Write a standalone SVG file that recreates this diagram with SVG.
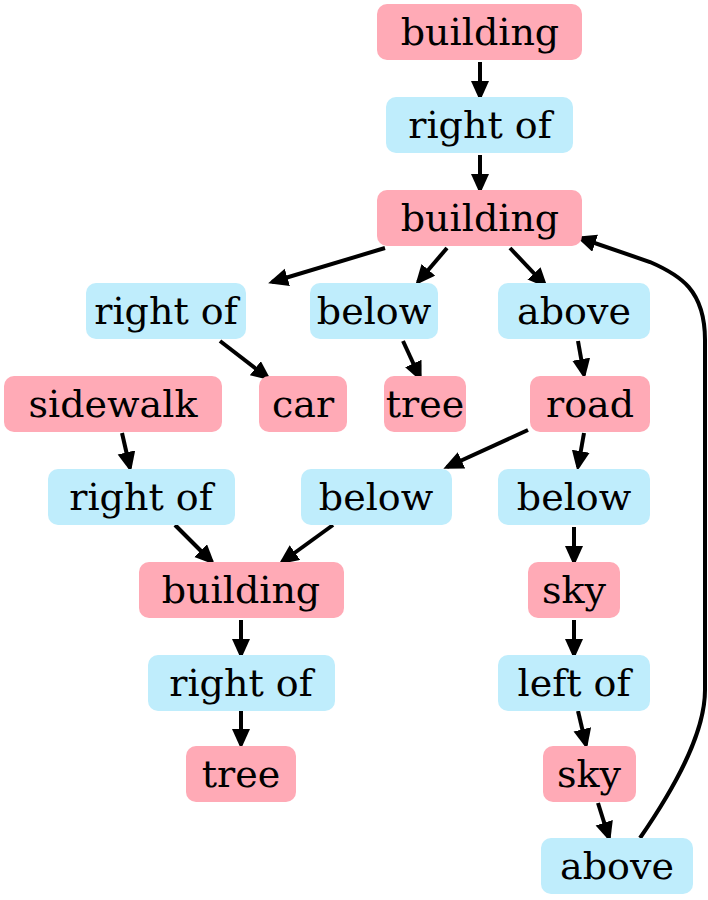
<svg xmlns="http://www.w3.org/2000/svg" width="708" height="900" viewBox="0 0 708 900">
<style>
.o rect{fill:#ffaab6;}
.r rect{fill:#bfedfc;}
text{font-family:"DejaVu Serif",serif;font-size:38px;text-anchor:middle;fill:#000;}
#edges path{stroke:#000;stroke-width:4;fill:none;marker-end:url(#a);}
</style>
<defs><marker id="a" markerUnits="userSpaceOnUse" markerWidth="22" markerHeight="20" refX="16" refY="9" orient="auto"><path d="M0,0 L20,9 L0,18 z" fill="#000"/></marker></defs>
<rect width="708" height="900" fill="#fff"/>
<g id="edges">
<path d="M480,62 L480,97"/>
<path d="M480,155 L480,190"/>
<path d="M385,248 L272,282"/>
<path d="M447,248 L418,282"/>
<path d="M510,248 L545,285"/>
<path d="M640,838 C680,780 705,730 705,690 L705,340 C705,290 680,275 650,262 L580,238"/>
<path d="M220,341 L268,378"/>
<path d="M403,341 L420,378"/>
<path d="M578,341 L584,375"/>
<path d="M122,433 L130,468"/>
<path d="M528,430 L447,467"/>
<path d="M584,433 L578,467"/>
<path d="M175,525 L212,562"/>
<path d="M333,525 L282,562"/>
<path d="M574,527 L574,562"/>
<path d="M241,620 L241,655"/>
<path d="M574,620 L574,655"/>
<path d="M241,711 L241,745"/>
<path d="M578,711 L586,745"/>
<path d="M598,803 L609,838"/>
</g>
<g id="n1" class="o"><rect x="377" y="4" width="205" height="56" rx="10"/><text x="480" y="45">building</text></g>
<g id="n2" class="r"><rect x="386" y="97" width="187" height="56" rx="10"/><text x="480" y="138">right of</text></g>
<g id="n3" class="o"><rect x="377" y="190" width="205" height="56" rx="10"/><text x="480" y="231">building</text></g>
<g id="n4" class="r"><rect x="86" y="283" width="160" height="56" rx="10"/><text x="166" y="324">right of</text></g>
<g id="n5" class="r"><rect x="310" y="283" width="128" height="56" rx="10"/><text x="374" y="324">below</text></g>
<g id="n6" class="r"><rect x="498" y="283" width="152" height="56" rx="10"/><text x="574" y="324">above</text></g>
<g id="n7" class="o"><rect x="4" y="376" width="218" height="56" rx="10"/><text x="113" y="417">sidewalk</text></g>
<g id="n8" class="o"><rect x="259" y="376" width="88" height="56" rx="10"/><text x="303" y="417">car</text></g>
<g id="n9" class="o"><rect x="384" y="376" width="82" height="56" rx="10"/><text x="425" y="417">tree</text></g>
<g id="n10" class="o"><rect x="530" y="376" width="120" height="56" rx="10"/><text x="590" y="417">road</text></g>
<g id="n11" class="r"><rect x="48" y="469" width="187" height="56" rx="10"/><text x="141" y="510">right of</text></g>
<g id="n12" class="r"><rect x="301" y="469" width="151" height="56" rx="10"/><text x="376" y="510">below</text></g>
<g id="n13" class="r"><rect x="498" y="469" width="152" height="56" rx="10"/><text x="574" y="510">below</text></g>
<g id="n14" class="o"><rect x="139" y="562" width="205" height="56" rx="10"/><text x="241" y="603">building</text></g>
<g id="n15" class="o"><rect x="528" y="562" width="92" height="56" rx="10"/><text x="574" y="603">sky</text></g>
<g id="n16" class="r"><rect x="148" y="655" width="187" height="56" rx="10"/><text x="241" y="696">right of</text></g>
<g id="n17" class="r"><rect x="498" y="655" width="152" height="56" rx="10"/><text x="574" y="696">left of</text></g>
<g id="n18" class="o"><rect x="186" y="746" width="110" height="56" rx="10"/><text x="241" y="787">tree</text></g>
<g id="n19" class="o"><rect x="543" y="746" width="93" height="56" rx="10"/><text x="589" y="787">sky</text></g>
<g id="n20" class="r"><rect x="541" y="838" width="152" height="56" rx="10"/><text x="617" y="879">above</text></g>
</svg>
